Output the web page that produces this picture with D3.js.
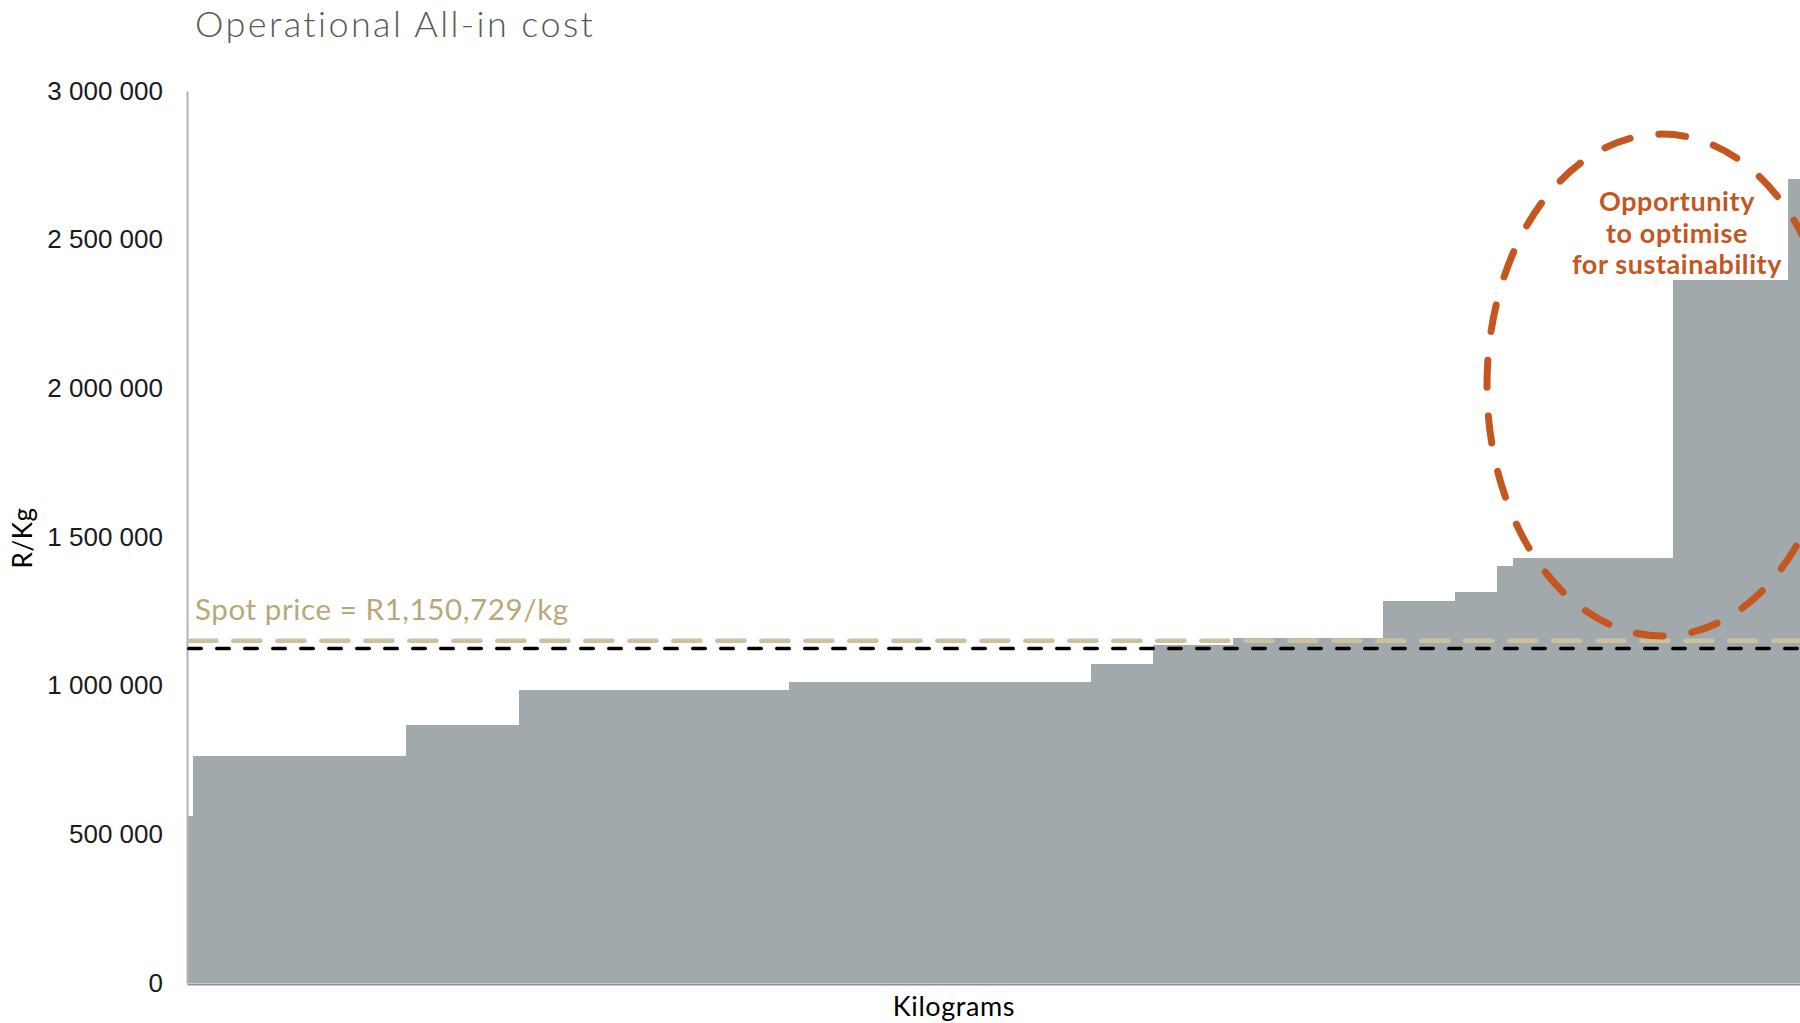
<!DOCTYPE html>
<html>
<head>
<meta charset="utf-8">
<script src="https://cdn.jsdelivr.net/npm/d3@7"></script>
<style>
  html, body { margin: 0; padding: 0; background: #ffffff; }
  svg { display: block; }
</style>
</head>
<body>
<svg id="chart" width="1800" height="1023"></svg>
<script>
// Cost curve: each step is one operation, width = kilograms produced, height = all-in cost per kg
const operations = ["A", "B", "C", "D", "E", "F", "G", "H", "I", "J", "K", "L", "M", "N"];
const kilograms  = [600, 21300, 11300, 27000, 30200, 6200, 8000, 15000, 7200, 4200, 1600, 16000, 11500, 1200];
const costPerKg  = [560000, 763000, 868000, 985000, 1012000, 1074000, 1137000, 1160000,
                    1285000, 1316000, 1402000, 1428000, 2364000, 2704000];
const yTicks     = [0, 500000, 1000000, 1500000, 2000000, 2500000, 3000000];
const spotPrice  = 1150729;
const averageCost = 1125000;

const plot = { left: 187, right: 1800, top: 91, bottom: 983 };

const svg = d3.select("#chart");

// cumulative start of each step along the kilogram axis
let acc = 0;
const steps = operations.map((op, i) => {
  const s = { op, x0: acc, kg: kilograms[i], cost: costPerKg[i] };
  acc += kilograms[i];
  return s;
});
const totalKg = acc;

const x = d3.scaleLinear().domain([0, totalKg]).range([plot.left, plot.right]);
const y = d3.scaleLinear().domain([0, 3000000]).range([plot.bottom, plot.top]);

const labelFont = "Lato, 'Open Sans', sans-serif";

// Title
svg.append("text")
  .attr("x", 195).attr("y", 37)
  .attr("font-family", labelFont)
  .attr("font-weight", 300)
  .attr("font-size", 36)
  .attr("letter-spacing", 2.4)
  .attr("fill", "#595959")
  .text("Operational All-in cost");

// Steps
svg.append("g").selectAll("rect")
  .data(steps)
  .join("rect")
  .attr("x", d => x(d.x0))
  .attr("width", d => x(d.x0 + d.kg) - x(d.x0))
  .attr("y", d => y(d.cost))
  .attr("height", d => y(0) - y(d.cost))
  .attr("fill", "#a2a9ac")
  .attr("shape-rendering", "crispEdges");

// Y axis
const yAxis = svg.append("g")
  .attr("transform", `translate(${plot.left},0)`)
  .call(d3.axisLeft(y)
    .tickValues(yTicks)
    .tickSize(0)
    .tickPadding(24)
    .tickFormat(d => d3.format(",")(d).replace(/,/g, " ")));
yAxis.select(".domain").attr("stroke", "#b3b3b3").attr("stroke-width", 2);
yAxis.selectAll("text")
  .attr("font-family", "'Liberation Sans', Arial, sans-serif")
  .attr("font-size", 26)
  .attr("fill", "#1a1a1a");

// X axis (baseline only)
const xAxis = svg.append("g")
  .attr("transform", `translate(0,${plot.bottom + 1})`)
  .call(d3.axisBottom(x).tickValues([]).tickSizeOuter(0));
xAxis.select(".domain").attr("stroke", "#8e9294").attr("stroke-width", 2);

// Axis titles
svg.append("text")
  .attr("transform", `translate(32,538) rotate(-90)`)
  .attr("text-anchor", "middle")
  .attr("font-family", labelFont)
  .attr("font-size", 26)
  .attr("letter-spacing", 0.5)
  .attr("fill", "#000")
  .text("R/Kg");

svg.append("text")
  .attr("x", 954).attr("y", 1016)
  .attr("text-anchor", "middle")
  .attr("font-family", labelFont)
  .attr("font-size", 27)
  .attr("letter-spacing", 0.6)
  .attr("fill", "#000")
  .text("Kilograms");

// Spot price reference line
svg.append("line")
  .attr("x1", plot.left + 2.25).attr("x2", plot.right)
  .attr("y1", y(spotPrice)).attr("y2", y(spotPrice))
  .attr("stroke", "#cdc09f")
  .attr("stroke-width", 4.5)
  .attr("stroke-linecap", "round")
  .attr("stroke-dasharray", "27.2,16.8");

// Average cost reference line
svg.append("line")
  .attr("x1", plot.left + 1.75).attr("x2", plot.right)
  .attr("y1", y(averageCost)).attr("y2", y(averageCost))
  .attr("stroke", "#000")
  .attr("stroke-width", 3.5)
  .attr("stroke-linecap", "round")
  .attr("stroke-dasharray", "12.5,15.5");

svg.append("text")
  .attr("x", 195).attr("y", y(spotPrice) - 21)
  .attr("font-family", labelFont)
  .attr("font-size", 29.5)
  .attr("letter-spacing", 0.6)
  .attr("fill", "#b8a878")
  .text("Spot price = R1,150,729/kg");

// Highlight of the high-cost tail
const ring = { x0: 130000, x1: 165000, vLow: 1167000, vHigh: 2855000 };
svg.append("ellipse")
  .attr("cx", (x(ring.x0) + x(ring.x1)) / 2)
  .attr("cy", (y(ring.vLow) + y(ring.vHigh)) / 2)
  .attr("rx", (x(ring.x1) - x(ring.x0)) / 2)
  .attr("ry", (y(ring.vLow) - y(ring.vHigh)) / 2)
  .attr("fill", "none")
  .attr("stroke", "#c4571f")
  .attr("stroke-width", 7)
  .attr("stroke-linecap", "round")
  .attr("stroke-dasharray", "27,29");

const noteLines = ["Opportunity", "to optimise", "for sustainability"];
svg.append("text")
  .attr("x", x(149000)).attr("y", y(2595000))
  .attr("text-anchor", "middle")
  .attr("font-family", labelFont)
  .attr("font-weight", 700)
  .attr("font-size", 27)
  .attr("letter-spacing", 0.6)
  .attr("fill", "#c4571f")
  .selectAll("tspan")
  .data(noteLines)
  .join("tspan")
  .attr("x", x(149000))
  .attr("dy", (d, i) => i === 0 ? 0 : 31.5)
  .text(d => d);
</script>
</body>
</html>
